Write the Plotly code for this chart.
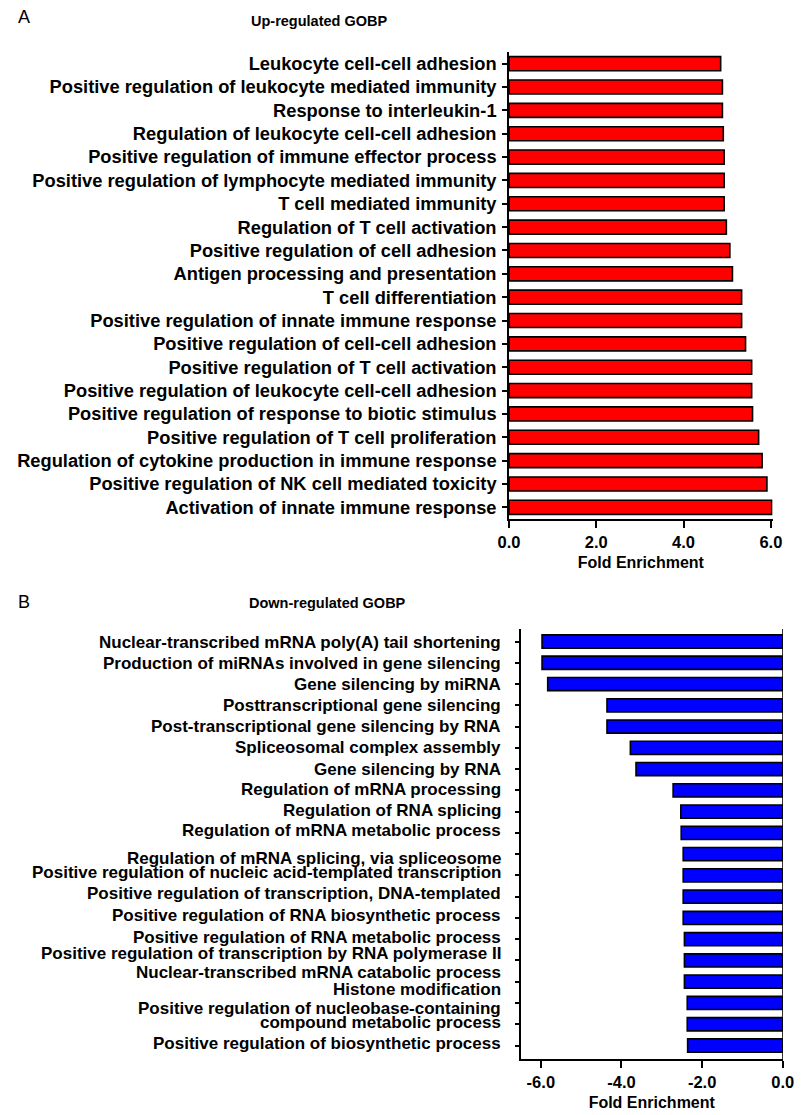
import plotly.graph_objects as go

up_terms = [
    "Leukocyte cell-cell adhesion",
    "Positive regulation of leukocyte mediated immunity",
    "Response to interleukin-1",
    "Regulation of leukocyte cell-cell adhesion",
    "Positive regulation of immune effector process",
    "Positive regulation of lymphocyte mediated immunity",
    "T cell mediated immunity",
    "Regulation of T cell activation",
    "Positive regulation of cell adhesion",
    "Antigen processing and presentation",
    "T cell differentiation",
    "Positive regulation of innate immune response",
    "Positive regulation of cell-cell adhesion",
    "Positive regulation of T cell activation",
    "Positive regulation of leukocyte cell-cell adhesion",
    "Positive regulation of response to biotic stimulus",
    "Positive regulation of T cell proliferation",
    "Regulation of cytokine production in immune response",
    "Positive regulation of NK cell mediated toxicity",
    "Activation of innate immune response",
]
up_values = [4.85, 4.89, 4.89, 4.91, 4.93, 4.93, 4.93, 4.98, 5.06, 5.12,
             5.33, 5.33, 5.42, 5.56, 5.56, 5.58, 5.72, 5.80, 5.91, 6.02]

down_terms = [
    "Nuclear-transcribed mRNA poly(A) tail shortening",
    "Production of miRNAs involved in gene silencing",
    "Gene silencing by miRNA",
    "Posttranscriptional gene silencing",
    "Post-transcriptional gene silencing by RNA",
    "Spliceosomal complex assembly",
    "Gene silencing by RNA",
    "Regulation of mRNA processing",
    "Regulation of RNA splicing",
    "Regulation of mRNA metabolic process",
    "Regulation of mRNA splicing, via spliceosome",
    "Positive regulation of nucleic acid-templated transcription",
    "Positive regulation of transcription, DNA-templated",
    "Positive regulation of RNA biosynthetic process",
    "Positive regulation of RNA metabolic process",
    "Positive regulation of transcription by RNA polymerase II",
    "Nuclear-transcribed mRNA catabolic process",
    "Histone modification",
    "Positive regulation of nucleobase-containing<br>compound metabolic process",
    "Positive regulation of biosynthetic process",
]
down_values = [-5.97, -5.97, -5.83, -4.36, -4.36, -3.78, -3.64, -2.72, -2.53, -2.52,
               -2.47, -2.47, -2.47, -2.47, -2.44, -2.44, -2.44, -2.37, -2.37, -2.36]

up_ticks = [0, 2, 4, 6]
up_ticktext = ["0.0", "2.0", "4.0", "6.0"]
down_ticks = [-6, -4, -2, 0]
down_ticktext = ["-6.0", "-4.0", "-2.0", "0.0"]

# style: small vertical nudges (px, downward) of the down-regulated labels, as in the original figure
down_label_nudge = [1, 1, 0, 0, 0, 0, 0, -1, -1, -2,
                    4, -3, -3, -2, -2, -7, -9, -13, -8.5, -2]

FONT = "Liberation Sans, Arial, sans-serif"

W, H = 805, 1115
def px_x(a, b):
    return [a / W, b / W]
def px_y(top, bottom):
    return [1 - bottom / H, 1 - top / H]

fig = go.Figure()
fig.add_trace(go.Bar(
    x=up_values, y=up_terms, orientation="h", xaxis="x", yaxis="y",
    marker=dict(color="#ff0000", line=dict(color="black", width=1.6)),
    width=0.6, showlegend=False,
))
fig.add_trace(go.Bar(
    x=down_values, y=down_terms, orientation="h", xaxis="x2", yaxis="y2",
    marker=dict(color="#0000ff", line=dict(color="black", width=1.6)),
    width=0.62, showlegend=False,
))

axis_common = dict(showline=True, linecolor="black", linewidth=1.6, ticks="outside",
                   tickcolor="black", tickwidth=1.6, showgrid=False, zeroline=False)

fig.update_layout(
    width=W, height=H, margin=dict(l=0, r=0, t=0, b=0),
    paper_bgcolor="white", plot_bgcolor="white",
    xaxis=dict(domain=px_x(512, 783), range=[0, 6.04], anchor="y",
               tickvals=up_ticks, ticktext=up_ticktext, ticklen=7,
               tickfont=dict(family=FONT, size=16.5, color="black", weight="bold"),
               title=dict(text="Fold Enrichment", standoff=7,
                          font=dict(family=FONT, size=16, color="black", weight="bold")),
               **axis_common),
    yaxis=dict(domain=px_y(52, 519), anchor="x", autorange="reversed",
               type="category", ticklen=5, ticklabelstandoff=2,
               tickfont=dict(family=FONT, size=18.3, color="black", weight="bold"),
               **axis_common),
    xaxis2=dict(domain=px_x(524, 793.5), range=[-6.5, 0.0], anchor="y2",
                tickvals=down_ticks, ticktext=down_ticktext, ticklen=7,
                tickfont=dict(family=FONT, size=16.5, color="black", weight="bold"),
                title=dict(text="Fold Enrichment", standoff=7,
                           font=dict(family=FONT, size=16, color="black", weight="bold")),
                **axis_common),
    yaxis2=dict(domain=px_y(629, 1059), anchor="x2", autorange="reversed",
                type="category", ticklen=4, showticklabels=False,
                **axis_common),
)

# zero line at right edge of lower panel
fig.add_shape(type="line", xref="x2", yref="y2 domain", x0=0, x1=0, y0=0, y1=1,
              line=dict(color="black", width=1.6))

# lower panel category labels (tightly spaced as in the original)
line_gap = 13.5
for term, nudge in zip(down_terms, down_label_nudge):
    lines = term.split("<br>")
    n = len(lines)
    for j, line in enumerate(lines):
        fig.add_annotation(
            text=line, x=506 / W, xref="paper", y=term, yref="y2",
            xanchor="right", yanchor="middle", showarrow=False,
            yshift=-nudge + ((n - 1) / 2 - j) * line_gap,
            font=dict(family=FONT, size=17, color="black", weight="bold"),
        )

fig.add_annotation(text="Up-regulated GOBP", x=317 / W, y=1 - 21.5 / H, xref="paper", yref="paper",
                   xanchor="center", yanchor="middle", showarrow=False,
                   font=dict(family=FONT, size=14.5, color="black", weight="bold"))
fig.add_annotation(text="Down-regulated GOBP", x=325 / W, y=1 - 602.5 / H, xref="paper", yref="paper",
                   xanchor="center", yanchor="middle", showarrow=False,
                   font=dict(family=FONT, size=14.5, color="black", weight="bold"))
fig.add_annotation(text="A", x=13 / W, y=1 - 17 / H, xref="paper", yref="paper",
                   xanchor="center", yanchor="middle", showarrow=False,
                   font=dict(family=FONT, size=18, color="black"))
fig.add_annotation(text="B", x=13 / W, y=1 - 602 / H, xref="paper", yref="paper",
                   xanchor="center", yanchor="middle", showarrow=False,
                   font=dict(family=FONT, size=18, color="black"))

fig.write_html("out.html", config={"displayModeBar": False},
               post_script="document.body.style.margin='0';")
